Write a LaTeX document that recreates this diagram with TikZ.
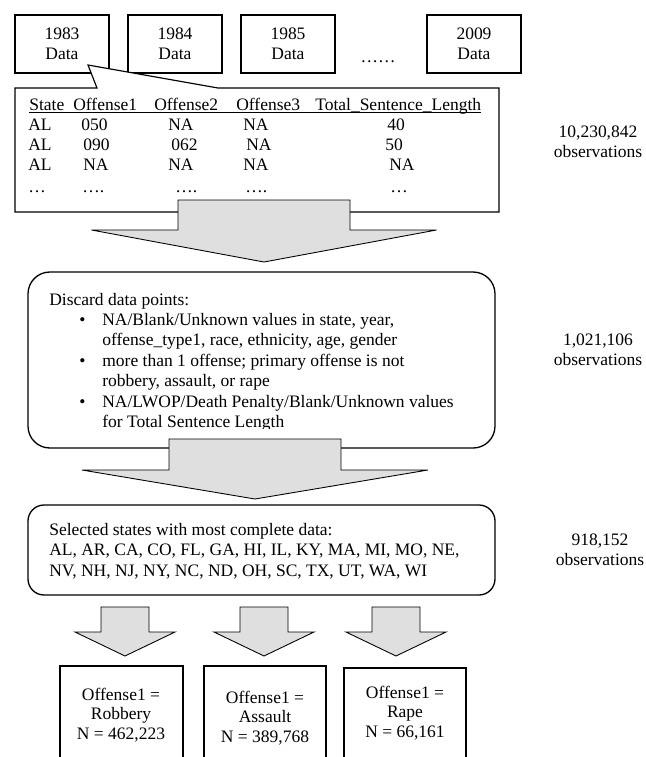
\documentclass[tikz,border=0pt]{standalone}
\usepackage{fontspec}
\setmainfont{Liberation Serif}
\tikzset{
  databox/.style={draw,line width=0.8pt,fill=white},
  roundbox/.style={draw,line width=0.9pt,rounded corners=15pt},
  bigarrow/.style={draw,line width=0.6pt,fill=gray!25},
  txt/.style={inner sep=0pt,align=center},
  cell/.style={inner sep=0pt,anchor=base west},
}
% block arrow: centre x, shaft top, neck, tip, shaft half width, head half width
\newcommand{\downblock}[6]{%
  \draw[bigarrow] (#1-#5,#2) -- (#1+#5,#2) -- (#1+#5,#3) -- (#1+#6,#3)
    -- (#1,#4) -- (#1-#6,#3) -- (#1-#5,#3) -- cycle;}
\begin{document}
\begin{tikzpicture}[x=0.686pt,y=-0.686pt,font=\fontsize{12}{14}\selectfont]
    \useasboundingbox (0,0) rectangle (646,757);
    % yearly files
    \draw[databox] (15,15) rectangle node[txt] (y1983) {1983\\Data} (109,73);
    \draw[databox] (128,15) rectangle node[txt] (y1984) {1984\\Data} (222,73);
    \draw[databox] (241,15) rectangle node[txt] (y1985) {1985\\Data} (335,73);
    \draw[databox] (427,15) rectangle node[txt] (y2009) {2009\\Data} (521,73);
    \node[txt] (more) at (378,62) {……};
    % table callout
    \draw[databox] (15,88) -- (97,88) -- (88,65) -- (218,88) -- (499,88) -- (499,212) -- (15,212) -- cycle;
    \foreach \cx/\cy/\ct/\cn in {29/110/State/hState, 73/110/Offense1/hOffA, 154/110/Offense2/hOffB,
        236/110/Offense3/hOffC, 315/110/Total\_Sentence\_Length/hTotal,
        28/130.5/AL/aA, 81/130.5/050/aB, 168/130.5/NA/aC, 243/130.5/NA/aD, 387/130.5/40/aE,
        28/150.5/AL/bA, 83/150.5/090/bB, 171/150.5/062/bC, 246/150.5/NA/bD, 385/150.5/50/bE,
        28/170.5/AL/cA, 83/170.5/NA/cB, 168/170.5/NA/cC, 243/170.5/NA/cD, 389/170.5/NA/cE,
        28/192/…/dA, 82/192/…./dB, 175/192/…./dC, 245/192/…./dD, 390/192/…/dE}
      \node[cell] (\cn) at (\cx,\cy) {\ct};
    \draw[line width=0.6pt] ([yshift=-1.5pt]hState.base west) -- ([yshift=-1.5pt]hTotal.base east);
    \node[txt] (obsA) at (598,142) {10,230,842\\observations};
    \downblock{264}{200}{230}{262}{86}{172.5}
    % discard step
    \draw[roundbox] (28,272) rectangle (495,448);
    \begin{scope}
      \clip (28,272) rectangle (495,428);
      \node[cell] (discard) at (49,305) {\begin{tabular}[t]{@{}p{36.4pt}@{}l@{}}
        \multicolumn{2}{@{}l@{}}{Discard data points:}\\
        \hspace*{20.6pt}\textbullet & NA/Blank/Unknown values in state, year,\\
          & offense\_type1, race, ethnicity, age, gender\\
        \hspace*{20.6pt}\textbullet & more than 1 offense; primary offense is not\\
          & robbery, assault, or rape\\
        \hspace*{20.6pt}\textbullet & NA/LWOP/Death Penalty/Blank/Unknown values\\
          & for Total Sentence Length
      \end{tabular}};
    \end{scope}
    \node[txt] (obsB) at (598,350) {1,021,106\\observations};
    \downblock{255}{439}{470}{499}{86}{173}
    % selected states
    \draw[roundbox,rounded corners=11pt] (28,505) rectangle (495,595);
    \node[txt,anchor=west,align=left] (states) at (49,551) {Selected states with most complete data:\\
      AL, AR, CA, CO, FL, GA, HI, IL, KY, MA, MI, MO, NE,\\
      NV, NH, NJ, NY, NC, ND, OH, SC, TX, UT, WA, WI};
    \node[txt] (obsC) at (600,550) {918,152\\observations};
    \downblock{125}{607}{632}{656}{24}{50}
    \downblock{264}{607}{632}{656}{24}{50}
    \downblock{396}{607}{632}{656}{24}{50}
    % offence groups
    \draw[databox,fill=none] (60,760) |- (183,666) -- (183,760);
    \draw[databox,fill=none] (204,760) |- (326,666) -- (326,760);
    \draw[databox,fill=none] (344,760) |- (466,668) -- (466,760);
    \node[txt,font=\fontsize{12}{13.4}\selectfont] (robbery) at (121,715) {Offense1 =\\Robbery\\N = 462,223};
    \node[txt,font=\fontsize{12}{13.4}\selectfont] (assault) at (265,718) {Offense1 =\\Assault\\N = 389,768};
    \node[txt,font=\fontsize{12}{13.4}\selectfont] (rape) at (405,713) {Offense1 =\\Rape\\N = 66,161};
  \end{tikzpicture}
\end{document}
